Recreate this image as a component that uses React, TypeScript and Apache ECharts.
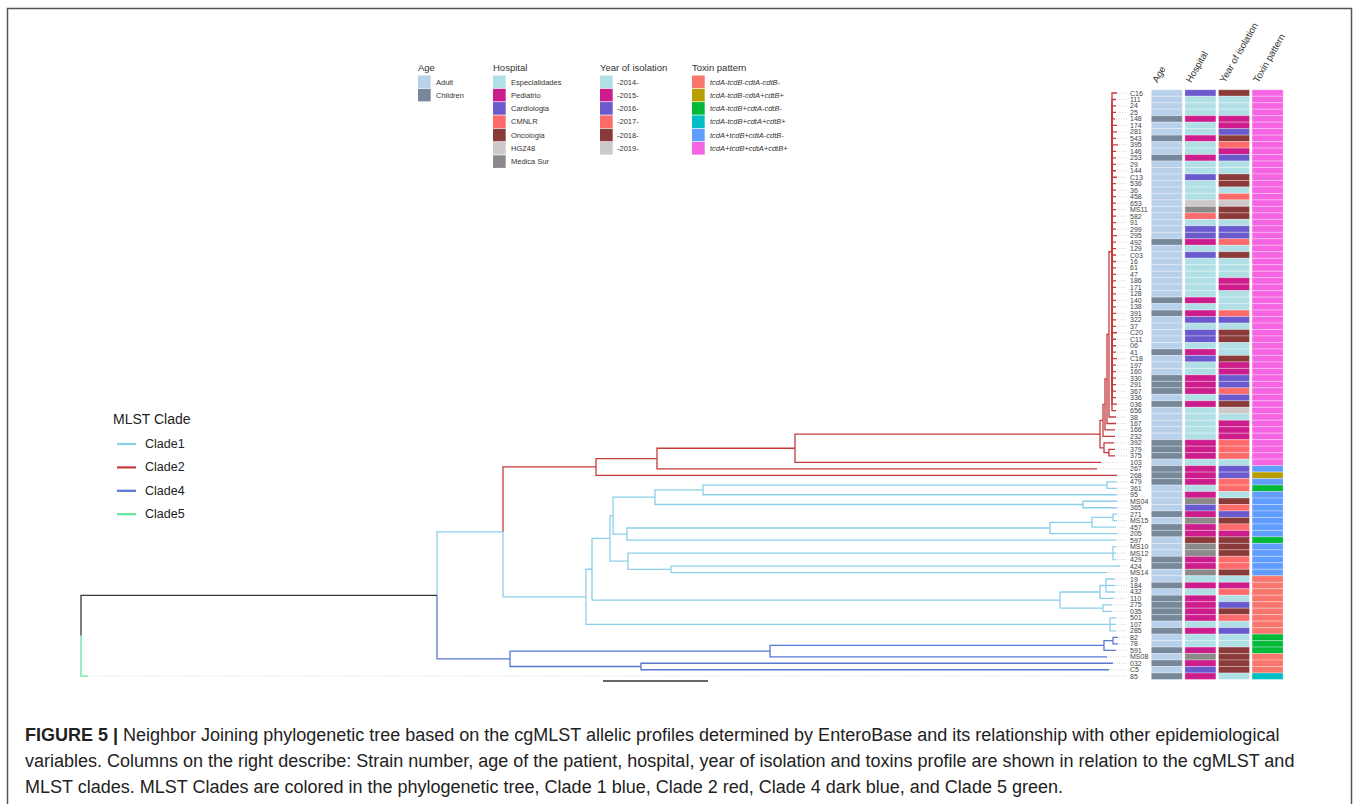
import React, { useEffect, useRef } from "react";
import * as echarts from "echarts";

// ---------- DATA ----------
const strains = [
  "C16","111","24","25","148","174","281","543","395","146",
  "253","29","144","C13","536","36","458","653","MS11","582",
  "91","299","295","492","129","C03","16","61","47","186",
  "171","128","140","138","391","322","37","C20","C11","06",
  "41","C18","197","160","330","291","367","336","036","656",
  "38","167","166","232","392","379","375","103","267","268",
  "479","361","95","MS04","365","271","MS15","457","205","597",
  "MS10","MS12","429","424","MS14","19","184","432","110","275",
  "035","501","107","285","82","78","591","MS08","032","C5",
  "85"
];

const columnNames = ["Age", "Hospital", "Year of isolation", "Toxin pattern"];

const ageCats = ["Adult", "Children"];
const ageColors = ["#b9d0ea", "#76889a"];
const hospitalCats = ["Especialidades", "Pediatrio", "Cardiologia", "CMNLR", "Oncologia", "HGZ48", "Medica Sur"];
const hospitalColors = ["#b0e0e6", "#cd1d8c", "#6a5acd", "#ff6a6a", "#8b3a3a", "#cdc9c9", "#8b8989"];
const yearCats = ["-2014-", "-2015-", "-2016-", "-2017-", "-2018-", "-2019-"];
const yearColors = ["#b0e0e6", "#cd1d8c", "#6a5acd", "#ff6a6a", "#8b3a3a", "#cdc9c9"];
const toxinCats = [
  "tcdA-tcdB-cdtA-cdtB-",
  "tcdA-tcdB-cdtA+cdtB+",
  "tcdA-tcdB+cdtA-cdtB-",
  "tcdA-tcdB+cdtA+cdtB+",
  "tcdA+tcdB+cdtA-cdtB-",
  "tcdA+tcdB+cdtA+cdtB+"
];
const toxinColors = ["#F8766D", "#B79F00", "#00BA38", "#00BFC4", "#619CFF", "#F564E3"];

const ageIdx = [
  0,0,0,0,1,0,0,1,0,0,
  1,0,0,0,0,0,0,0,0,0,
  0,0,0,1,0,0,0,0,0,0,
  0,0,1,0,1,0,0,0,0,0,
  1,0,0,0,1,1,1,0,1,0,
  0,0,0,0,1,1,1,0,1,1,
  1,0,0,0,0,1,0,1,1,0,
  0,0,1,1,0,0,1,0,1,1,
  1,1,0,1,0,0,1,0,1,0,
  1
];
const hospitalIdx = [
  2,0,0,0,1,0,0,1,0,0,
  1,0,0,2,0,0,0,5,6,3,
  0,2,2,1,0,2,0,0,0,0,
  0,0,1,0,1,2,0,2,2,0,
  1,2,0,0,1,1,1,0,1,0,
  0,0,0,0,1,1,1,0,1,1,
  1,0,1,6,2,1,6,1,1,4,
  6,6,1,1,6,0,1,0,1,1,
  1,1,0,1,0,0,1,6,1,2,
  1
];
const yearIdx = [
  4,0,0,0,1,1,2,4,3,1,
  2,0,0,4,4,0,3,5,4,4,
  0,2,2,3,0,4,0,0,0,1,
  1,0,0,0,3,2,0,4,4,0,
  0,4,1,1,2,2,3,2,4,5,
  0,1,1,1,3,3,3,0,2,2,
  3,3,0,4,3,2,4,3,1,4,
  4,4,3,3,4,0,1,3,0,2,
  4,3,0,2,0,0,4,4,4,4,
  0
];
const toxinIdx = [
  5,5,5,5,5,5,5,5,5,5,
  5,5,5,5,5,5,5,5,5,5,
  5,5,5,5,5,5,5,5,5,5,
  5,5,5,5,5,5,5,5,5,5,
  5,5,5,5,5,5,5,5,5,5,
  5,5,5,5,5,5,5,5,4,1,
  4,2,4,4,4,4,4,4,4,2,
  4,4,4,4,4,0,0,0,0,0,
  0,0,0,0,2,2,2,0,0,0,
  3
];

// tip depth (distance from root) of every strain
const tipDepth = [
  1036,1035,1035,1035,1034,1036,1036,1035,1037,1035,
  1035,1035,1035,1036,1035,1035,1035,1035,1035,1035,
  1035,1035,1036,1035,1035,1035,1035,1035,1035,1035,
  1035,1035,1035,1035,1035,1035,1035,1036,1035,1035,
  1035,1036,1035,1035,1035,1035,1035,1035,1036,1035,
  1035,1035,1034,1034,1033,1034,1034,1020,1016,1036,
  1036,1036,1036,1036,1036,1036,1036,1035,1036,1035,
  1035,1035,1035,1039,1026,1034,1034,1034,1033,1031,
  1031,1035,1035,1035,1037,1037,1035,1026,1032,1028,
  7
];

const cladeNames = ["Clade1", "Clade2", "Clade4", "Clade5"];
const cladeColors = ["#8ccfe9", "#c43b3b", "#5877d2", "#63e6a0"];
const unassignedColor = "#3a3a3a";

// scale bar: [start depth, length]
const scaleBar = [522, 105];

// ---------- TREE (topology + internal node depths; k = clade index) ----------
type TNode = { d?: number; k?: number; c?: TNode[]; n?: string };
const L = (n: string, k?: number): TNode => ({ n, k });
const N = (d: number, k: number | undefined, c: TNode[]): TNode => ({ d, k, c });

const clade2Core = strains.slice(0, 50).map((s) => L(s));

const tree: TNode = N(0, -1, [
  N(356, undefined, [
    N(422, 0, [
      N(515, 1, [
        N(576, undefined, [
          N(714, undefined, [
            N(1019, undefined, [
              N(1022, undefined, [
                N(1024, undefined, [
                  N(1026, undefined, [
                    N(1028, undefined, [N(1031, undefined, clade2Core), L("38")]),
                    L("167")
                  ]),
                  L("166")
                ]),
                L("232")
              ]),
              N(1023, undefined, [L("392"), N(1028, undefined, [L("379"), L("375")])])
            ]),
            L("103")
          ]),
          L("267")
        ]),
        L("268")
      ]),
      N(505, 0, [
        N(511, undefined, [
          N(529, undefined, [
            N(532, undefined, [
              N(574, undefined, [
                N(622, undefined, [N(1026, undefined, [L("479"), L("361")]), L("95")]),
                N(1002, undefined, [L("MS04"), L("365")])
              ]),
              N(546, undefined, [
                N(969, undefined, [
                  N(1011, undefined, [N(1032, undefined, [L("271"), L("MS15")]), L("457")]),
                  L("205")
                ]),
                L("597")
              ])
            ]),
            N(547, undefined, [
              N(1032, undefined, [L("MS10"), L("MS12"), L("429")]),
              N(590, undefined, [L("424"), L("MS14")])
            ])
          ]),
          N(979, undefined, [
            N(1019, undefined, [N(1025, undefined, [L("19"), L("184"), L("432")]), L("110")]),
            N(1022, undefined, [L("275"), L("035")])
          ])
        ]),
        N(1029, undefined, [L("501"), L("107"), L("285")])
      ])
    ]),
    N(429, 2, [
      N(689, undefined, [
        N(1023, undefined, [N(1032, undefined, [L("82"), L("78")]), L("591")]),
        L("MS08")
      ]),
      N(560, undefined, [L("032"), L("C5")])
    ])
  ]),
  L("85", 3)
]);

function layoutTree(node: TNode, parentK: number, out: number[][]): { y: number; d: number; k: number } {
  const k = node.k !== undefined ? node.k : parentK;
  if (node.n !== undefined) {
    const row = strains.indexOf(node.n);
    return { y: row, d: tipDepth[row], k };
  }
  const kids = (node.c || []).map((ch) => layoutTree(ch, k, out));
  const y = (kids[0].y + kids[kids.length - 1].y) / 2;
  kids.forEach((ch) => out.push([node.d as number, y, ch.d, ch.y, ch.k]));
  return { y, d: node.d as number, k };
}

const FONT = "Liberation Sans, Arial, Helvetica, sans-serif";

export default function App() {
  const ref = useRef<HTMLDivElement>(null);

  useEffect(() => {
    if (!ref.current) return;
    const chart = echarts.init(ref.current, null, { renderer: "svg" });

    const edges: number[][] = [];
    layoutTree(tree, -1, edges);

    const connectors = strains.map((_, i) => [tipDepth[i], i]);

    const cells: number[][] = [];
    const cellColors: string[] = [];
    strains.forEach((_, i) => {
      cells.push([0, i]); cellColors.push(ageColors[ageIdx[i]]);
      cells.push([1, i]); cellColors.push(hospitalColors[hospitalIdx[i]]);
      cells.push([2, i]); cellColors.push(yearColors[yearIdx[i]]);
      cells.push([3, i]); cellColors.push(toxinColors[toxinIdx[i]]);
    });

    const rowTop = 89.76;
    const rowsHeight = 589.7;
    const tipEnd = 1046;
    const hmLeft = 1150;
    const hmWidth = 134.4;

    // legends
    const g: any[] = [];
    const legendGroup = (title: string, cats: string[], colors: string[], x: number, tx: number, italic: boolean) => {
      g.push({
        type: "text", x, y: 67,
        style: { text: title, fontSize: 9.5, fill: "#333", fontFamily: FONT, align: "left", verticalAlign: "middle" }
      });
      cats.forEach((c, i) => {
        g.push({ type: "rect", shape: { x, y: 75.5 + i * 13.3, width: 12.7, height: 12.6 }, style: { fill: colors[i] } });
        g.push({
          type: "text", x: tx, y: 82 + i * 13.3,
          style: {
            text: c, fontSize: 7.5, fill: "#333", fontFamily: FONT, align: "left", verticalAlign: "middle",
            fontStyle: italic ? "italic" : "normal"
          }
        });
      });
    };
    legendGroup("Age", ageCats, ageColors, 418, 436, false);
    legendGroup("Hospital", hospitalCats, hospitalColors, 493, 511, false);
    legendGroup("Year of isolation", yearCats, yearColors, 600, 617, false);
    legendGroup("Toxin pattern", toxinCats, toxinColors, 692, 710, true);

    // column headers (rotated)
    const colW = hmWidth / columnNames.length;
    columnNames.forEach((name, i) => {
      g.push({
        type: "text", x: hmLeft + colW * (i + 0.5) - 8, y: 84, rotation: Math.PI / 3,
        style: { text: name, fontSize: 9.5, fill: "#333", fontFamily: FONT, align: "left", verticalAlign: "bottom" }
      });
    });

    // MLST clade legend
    g.push({
      type: "text", x: 113, y: 419,
      style: { text: "MLST Clade", fontSize: 14, fill: "#222", fontFamily: FONT, align: "left", verticalAlign: "middle" }
    });
    cladeNames.forEach((c, i) => {
      const y = 444 + i * 23.4;
      g.push({ type: "line", shape: { x1: 117, y1: y, x2: 136, y2: y }, style: { stroke: cladeColors[i], lineWidth: 2.2 } });
      g.push({
        type: "text", x: 145, y,
        style: { text: c, fontSize: 12.5, fill: "#222", fontFamily: FONT, align: "left", verticalAlign: "middle" }
      });
    });

    // outer frame
    g.push({
      type: "rect", shape: { x: 7.5, y: 8.5, width: 1344, height: 820 },
      style: { fill: "none", stroke: "#555", lineWidth: 1.5 }, silent: true
    });

    // caption
    g.push({
      type: "text", x: 25, y: 722,
      style: {
        text:
          "{b|FIGURE 5 |} Neighbor Joining phylogenetic tree based on the cgMLST allelic profiles determined by EnteroBase and its relationship with other epidemiological\n" +
          "variables. Columns on the right describe: Strain number, age of the patient, hospital, year of isolation and toxins profile are shown in relation to the cgMLST and\n" +
          "MLST clades. MLST Clades are colored in the phylogenetic tree, Clade 1 blue, Clade 2 red, Clade 4 dark blue, and Clade 5 green.",
        fontSize: 18, lineHeight: 26, fill: "#222", fontFamily: FONT, align: "left", verticalAlign: "top",
        rich: {
          b: { fontWeight: "bold", fontSize: 18, lineHeight: 26, fill: "#222", fontFamily: FONT }
        }
      }
    });

    const option: any = {
      animation: false,
      backgroundColor: "#ffffff",
      grid: [
        { left: 81, top: rowTop, width: 1047, height: rowsHeight },
        { left: hmLeft, top: rowTop, width: hmWidth, height: rowsHeight }
      ],
      xAxis: [
        { type: "value", gridIndex: 0, min: 0, max: 1047, show: false },
        {
          type: "category", gridIndex: 1, data: columnNames, position: "top",
          axisLine: { show: false }, axisTick: { show: false }, splitLine: { show: false },
          axisLabel: { show: false }
        }
      ],
      yAxis: [
        { type: "value", gridIndex: 0, min: -0.5, max: 90.5, inverse: true, show: false },
        {
          type: "category", gridIndex: 1, data: strains, inverse: true,
          axisLine: { show: false }, axisTick: { show: false }, splitLine: { show: false },
          axisLabel: { interval: 0, fontSize: 7, color: "#444", margin: 20, align: "left", fontFamily: FONT }
        }
      ],
      graphic: { elements: g },
      series: [
        {
          type: "custom", name: "connectors", xAxisIndex: 0, yAxisIndex: 0, silent: true,
          data: connectors, encode: { x: 0, y: 1 },
          renderItem: (params: any, api: any) => {
            const a = api.coord([api.value(0), api.value(1)]);
            const b = api.coord([tipEnd, api.value(1)]);
            return {
              type: "line", shape: { x1: a[0] + 1, y1: a[1], x2: b[0], y2: b[1] },
              style: { stroke: "#b5b5b5", lineWidth: 0.6, lineDash: [1, 1.5] }
            };
          }
        },
        {
          type: "custom", name: "tree", xAxisIndex: 0, yAxisIndex: 0, silent: true,
          data: edges, encode: { x: [0, 2], y: [1, 3] },
          renderItem: (params: any, api: any) => {
            const p0 = api.coord([api.value(0), api.value(1)]);
            const p1 = api.coord([api.value(0), api.value(3)]);
            const p2 = api.coord([api.value(2), api.value(3)]);
            const k = api.value(4);
            return {
              type: "polyline", shape: { points: [p0, p1, p2] },
              style: { stroke: k < 0 ? unassignedColor : cladeColors[k], lineWidth: 1.3, fill: "none" }
            };
          }
        },
        {
          type: "line", name: "scale", xAxisIndex: 0, yAxisIndex: 0, silent: true, clip: false,
          symbol: "none", lineStyle: { color: "#666", width: 2 },
          data: [[scaleBar[0], 90.75], [scaleBar[0] + scaleBar[1], 90.75]]
        },
        {
          type: "custom", name: "heatmap", xAxisIndex: 1, yAxisIndex: 1, silent: true,
          data: cells, encode: { x: 0, y: 1 },
          renderItem: (params: any, api: any) => {
            const c = api.coord([api.value(0), api.value(1)]);
            const s = api.size([1, 1]);
            const w = s[0] - 2.6;
            return {
              type: "rect",
              shape: { x: c[0] - w / 2, y: c[1] - s[1] / 2, width: w, height: s[1] },
              style: { fill: cellColors[params.dataIndex], stroke: "rgba(255,255,255,0.6)", lineWidth: 0.5 }
            };
          }
        }
      ]
    };

    chart.setOption(option);
    return () => chart.dispose();
  }, []);

  return (
    <div
      ref={ref}
      style={{ position: "fixed", left: 0, top: 0, width: 1358, height: 804, background: "#fff" }}
    />
  );
}
